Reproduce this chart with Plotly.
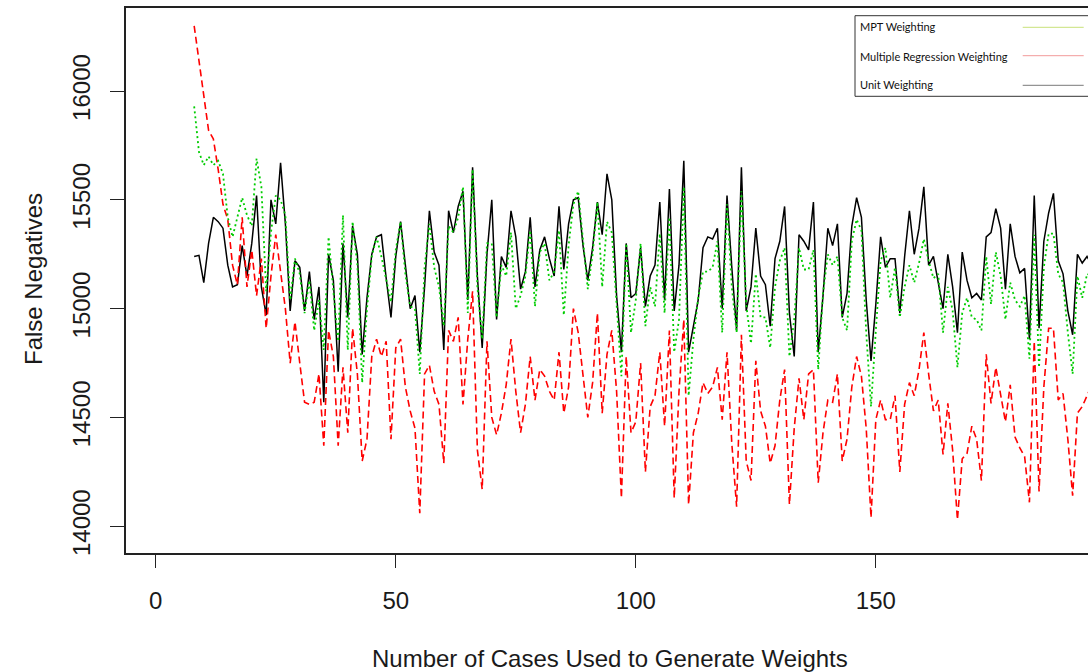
import plotly.graph_objects as go

cases = list(range(8, 196))

unit_w = [15240, 15245,
    15120, 15300, 15420, 15400, 15370, 15200, 15100, 15110, 15290, 15150,
    15300, 15520, 15100, 14970, 15500, 15390, 15670, 15390, 14990, 15220,
    15190, 14990, 15170, 14950, 15100, 14570, 15250, 15130, 14710, 15300,
    14960, 15380, 15250, 14790, 15050, 15250, 15330, 15340, 15140, 14960,
    15240, 15400, 15200, 15000, 15060, 14800, 15100, 15450, 15260, 15200,
    14810, 15450, 15350, 15470, 15540, 15040, 15650, 15150, 14820, 15250,
    15500, 14950, 15240, 15190, 15450, 15330, 15090, 15170, 15420, 15100,
    15270, 15330, 15230, 15150, 15470, 15180, 15390, 15500, 15510, 15290,
    15130, 15280, 15490, 15340, 15620, 15500, 15060, 14800, 15300, 15050,
    15070, 15280, 15010, 15150, 15200, 15490, 15040, 15550, 14990, 15200,
    15680, 14800, 14920, 15040, 15280, 15330, 15320, 15370, 15000, 15520,
    15190, 14900, 15650, 14990, 15100, 15370, 15150, 15110, 14920, 15230,
    15310, 15470, 14980, 14780, 15340, 15310, 15270, 15490, 14800, 15060,
    15370, 15290, 15390, 14960, 15070, 15380, 15510, 15420, 15040, 14760,
    15020, 15330, 15190, 15230, 15230, 14980, 15240, 15450, 15250, 15370,
    15560, 15200, 15240, 15120, 15000, 15250, 15100, 14890, 15260, 15130,
    15050, 15070, 15040, 15330, 15350, 15460, 15370, 15090, 15390, 15240,
    15165, 15185, 14860, 15520, 14910, 15310, 15440, 15530, 15220, 15160,
    14990, 14880, 15250, 15210, 15240, 15200]

mpt_w = [15930, 15720,
    15660, 15700, 15660, 15680, 15620, 15420, 15330, 15420, 15510, 15430,
    15380, 15690, 15560, 15080, 15350, 15520, 15500, 15430, 15040, 15230,
    15160, 14980, 15130, 14900, 15040, 14810, 15330, 15080, 14850, 15430,
    14810, 15400, 15200, 14660, 15000, 15240, 15330, 15240, 15130, 15030,
    15270, 15400, 15160, 15010, 15000, 14700, 15190, 15390, 15190, 15100,
    14920, 15380, 15350, 15420, 15560, 14980, 15640, 15100, 14860, 15300,
    15300, 14960, 15200, 15150, 15350, 15000, 15060, 15150, 15360, 15010,
    15260, 15300, 15130, 15170, 15360, 14970, 15290, 15480, 15540, 15320,
    15090, 15250, 15490, 15100, 15400, 15350, 15040, 14690, 15300, 14890,
    15040, 15300, 14920, 15100, 15010, 15345, 14980, 15420, 14800, 14950,
    15560, 14600, 14860, 15050, 15170, 15170, 15190, 15310, 14890, 15480,
    15100, 14890, 15540, 15020, 14840, 15160, 14960, 14960, 14820, 15100,
    15220, 15280, 14780, 14950, 15280, 15180, 15180, 15270, 14720, 15070,
    15250, 15200, 15240, 14960, 14900, 15310, 15410, 15360, 14890, 14550,
    14900, 15220, 15280, 15050, 15190, 14960, 15100, 15200, 15120, 15210,
    15320, 15220, 15140, 15160, 14890, 15100, 14990, 14730, 14980, 15050,
    14960, 14950, 14900, 15240, 15020, 15260, 15150, 14950, 15120, 15040,
    15010, 15060, 14770, 15340, 14730, 15190, 15345, 15345, 15160, 15120,
    14890, 14700, 15150, 15050, 15160, 15150]

mr_w = [16300, 16130,
    15980, 15820, 15780, 15640, 15480, 15410, 15200, 15110, 15420, 15100,
    15270, 15060, 15230, 14910, 15150, 15340, 15160, 15000, 14750, 14940,
    14750, 14570, 14560, 14570, 14700, 14370, 14900, 14780, 14370, 14730,
    14430, 14910, 14700, 14300, 14400, 14780, 14860, 14780, 14850, 14400,
    14820, 14860, 14640, 14530, 14450, 14060, 14700, 14740, 14620, 14560,
    14290, 14900, 14850, 14960, 14560, 14860, 15080, 14350, 14170, 14850,
    14500, 14420, 14520, 14650, 14860, 14620, 14430, 14560, 14780, 14580,
    14720, 14690, 14620, 14580, 14800, 14520, 14640, 15000, 14890, 14700,
    14500, 14660, 14980, 14520, 14790, 14900, 14620, 14130, 14780, 14430,
    14480, 14750, 14250, 14550, 14600, 14800, 14460, 14900, 14130, 14620,
    14950, 14100, 14430, 14520, 14660, 14610, 14640, 14730, 14490, 14800,
    14380, 14090, 14880, 14300, 14210, 14760, 14530, 14460, 14290, 14370,
    14580, 14720, 14100, 14450, 14680, 14490, 14700, 14720, 14200, 14430,
    14580, 14570, 14700, 14300, 14400, 14640, 14780, 14690, 14450, 14040,
    14490, 14580, 14490, 14490, 14600, 14250, 14560, 14660, 14600, 14720,
    14890, 14700, 14530, 14580, 14330, 14565, 14350, 14030, 14310, 14335,
    14460, 14400, 14210, 14790, 14565, 14730, 14600, 14480, 14650, 14410,
    14360, 14320, 14110, 14850, 14160, 14640, 14910, 14910, 14580, 14610,
    14400, 14140, 14520, 14550, 14600, 14650]

x_ticks = [0, 50, 100, 150]
y_ticks = [14000, 14500, 15000, 15500, 16000]
y_tick_text = ["14000", "14500", "15000", "15500", "16000"]
legend_labels = ["MPT Weighting", "Multiple Regression Weighting", "Unit Weighting"]
legend_colors = ["#c9e27a", "#f29a9a", "#7a7a7a"]

fig = go.Figure()
fig.add_trace(go.Scatter(x=cases, y=unit_w, mode="lines",
                         line=dict(color="#000000", width=1.5), name="Unit Weighting"))
fig.add_trace(go.Scatter(x=cases, y=mr_w, mode="lines",
                         line=dict(color="#ff0000", width=1.6, dash="7px,4px"),
                         name="Multiple Regression Weighting"))
fig.add_trace(go.Scatter(x=cases, y=mpt_w, mode="lines",
                         line=dict(color="#00cc00", width=1.8, dash="2px,3px"),
                         name="MPT Weighting"))

axis_font = dict(family="Liberation Sans, Arial, sans-serif", size=24, color="#1a1a1a")

fig.update_layout(
    width=1088, height=672,
    margin=dict(l=126, r=0, t=8, b=119),
    paper_bgcolor="white", plot_bgcolor="white",
    showlegend=False,
    xaxis=dict(range=[-6.2, 194.2], tickvals=x_ticks, ticks="outside", ticklen=13,
               tickwidth=1.3, tickcolor="#222", showline=True, linecolor="#222",
               linewidth=1.5, mirror=True, showgrid=False, zeroline=False,
               tickfont=axis_font, ticklabelstandoff=12),
    yaxis=dict(range=[13877, 16382], tickvals=y_ticks, ticktext=y_tick_text,
               ticks="outside", ticklen=14,
               tickwidth=1.3, tickcolor="#222", showline=True, linecolor="#222",
               linewidth=1.5, mirror=False, showgrid=False, zeroline=False,
               tickangle=-90, tickfont=axis_font, ticklabelstandoff=11),
)

def px_x(p):
    return (p - 126) / 962.0

def px_y(p):
    return (553 - p) / 545.0

fig.add_annotation(text="Number of Cases Used to Generate Weights", xref="paper", yref="paper",
                   x=px_x(610), y=px_y(658), showarrow=False, font=axis_font,
                   xanchor="center", yanchor="middle")
fig.add_annotation(text="False Negatives", xref="paper", yref="paper",
                   x=px_x(33), y=px_y(279), showarrow=False, font=axis_font,
                   textangle=-90, xanchor="center", yanchor="middle")

# legend box (clipped at right edge like the original)
lx0, ly0, ly1 = px_x(855), px_y(15.7), px_y(96.3)
for seg in [(lx0, ly0, 1.1, ly0), (lx0, ly1, 1.1, ly1), (lx0, ly0, lx0, ly1)]:
    fig.add_shape(type="line", xref="paper", yref="paper", x0=seg[0], y0=seg[1],
                  x1=seg[2], y1=seg[3], line=dict(color="#333", width=1))
leg_text_y = [26.7, 56, 84]
leg_line_y = [27.3, 55.7, 85.3]
for lab, col, ty, ly in zip(legend_labels, legend_colors, leg_text_y, leg_line_y):
    fig.add_annotation(text=lab, xref="paper", yref="paper", x=px_x(857.5), y=px_y(ty),
                       showarrow=False, xanchor="left", yanchor="middle",
                       font=dict(family="Lato, sans-serif", size=11, color="#111"))
    fig.add_shape(type="line", xref="paper", yref="paper", x0=px_x(1022.7), x1=px_x(1083.7),
                  y0=px_y(ly), y1=px_y(ly), line=dict(color=col, width=1))

fig.write_html("out.html", config={"displayModeBar": False})
